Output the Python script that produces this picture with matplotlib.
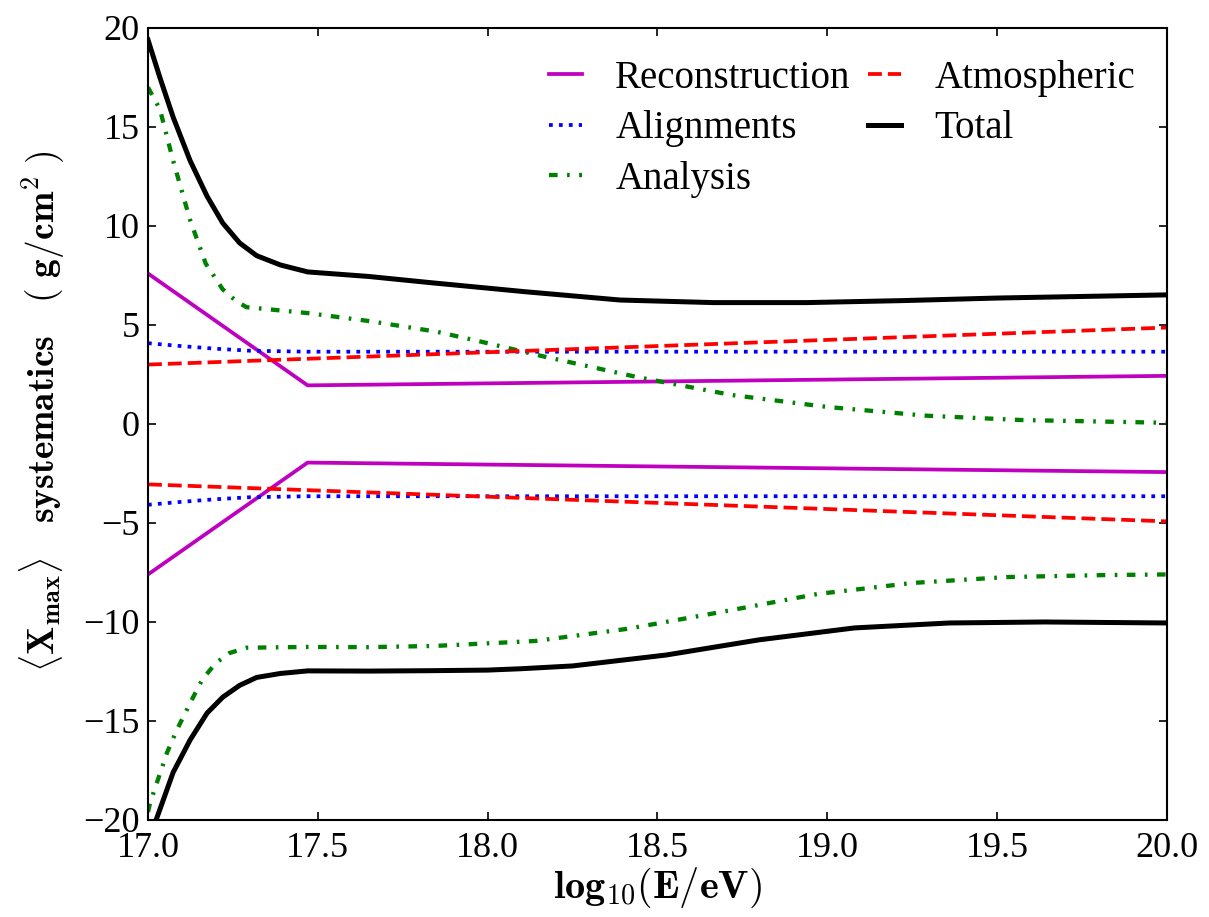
import numpy as np
import matplotlib
matplotlib.use("Agg")
import matplotlib.pyplot as plt

plt.rcParams['font.family'] = ['Liberation Serif', 'DejaVu Serif']
plt.rcParams['mathtext.fontset'] = 'cm'
plt.rcParams['axes.unicode_minus'] = True

# Reconstruction (piecewise linear, symmetric)
reco_x = [17.0, 17.47, 20.0]
reco_up = [7.6, 1.95, 2.43]
reco_lo = [-7.6, -1.95, -2.43]

# Atmospheric
atm_x = [17.0, 20.0]
atm_up = [3.0, 4.87]
atm_lo = [-3.05, -4.92]

# Alignments
ali_x = [17.0, 17.1, 17.2, 17.3, 17.47, 18.0, 19.0, 20.0]
ali_up = [4.08, 3.93, 3.8, 3.7, 3.65, 3.65, 3.65, 3.65]
ali_lo = [-4.08, -3.93, -3.8, -3.7, -3.65, -3.65, -3.65, -3.65]

# Analysis
ana_up_x = [17.0, 17.035, 17.074, 17.124, 17.17, 17.22, 17.26, 17.29, 17.35, 17.47, 17.65,
            17.85, 17.98, 18.16, 18.44, 18.72, 19.0, 19.29, 19.57, 20.0]
ana_up = [17.0, 15.9, 13.3, 10.3, 8.1, 6.8, 6.2, 5.9, 5.8, 5.6, 5.2,
          4.66, 4.16, 3.43, 2.37, 1.46, 0.86, 0.42, 0.2, 0.06]
ana_lo_x = [17.0, 17.006, 17.056, 17.085, 17.124, 17.16, 17.2, 17.24, 17.29, 17.47, 17.65,
            17.845, 18.14, 18.41, 18.69, 18.97, 19.25, 19.53, 19.82, 20.0]
ana_lo = [-19.6, -19.15, -16.6, -15.45, -14.1, -12.9, -12.07, -11.57, -11.3, -11.26, -11.27,
          -11.21, -10.96, -10.35, -9.49, -8.59, -8.03, -7.73, -7.63, -7.6]

# Total
tot_up_x = [17.0, 17.035, 17.074, 17.124, 17.174, 17.22, 17.27, 17.32, 17.39, 17.47, 17.65,
            17.83, 18.11, 18.39, 18.665, 18.94, 19.22, 19.5, 20.0]
tot_up = [19.4, 17.5, 15.5, 13.3, 11.5, 10.15, 9.14, 8.5, 8.03, 7.68, 7.45,
          7.14, 6.68, 6.26, 6.13, 6.13, 6.23, 6.36, 6.52]
tot_lo_x = [17.026, 17.074, 17.124, 17.174, 17.22, 17.27, 17.32, 17.39, 17.47, 17.65,
            17.83, 18.0, 18.1, 18.25, 18.4, 18.525, 18.8, 19.08, 19.36, 19.64, 20.0]
tot_lo = [-19.9, -17.6, -15.96, -14.6, -13.8, -13.2, -12.8, -12.6, -12.47, -12.48,
          -12.46, -12.43, -12.36, -12.22, -11.92, -11.67, -10.9, -10.3, -10.05, -10.0, -10.05]

fig = plt.figure(figsize=(12.09, 9.17), dpi=100)
ax = fig.add_axes([0.1224, 0.1058, 0.8428, 0.8637])

lw = 2.7
dd = (2.0, 2.2, 0.6, 2.2)
l_reco, = ax.plot(reco_x, reco_up, color='#bf00bf', lw=lw, label='Reconstruction')
ax.plot(reco_x, reco_lo, color='#bf00bf', lw=lw)
l_ali, = ax.plot(ali_x, ali_up, color='blue', lw=lw, ls=':', label='Alignments')
ax.plot(ali_x, ali_lo, color='blue', lw=lw, ls=':')
l_ana, = ax.plot(ana_up_x, ana_up, color='green', lw=lw + 0.4, dashes=dd, label='Analysis')
ax.plot(ana_lo_x, ana_lo, color='green', lw=lw + 0.4, dashes=dd)
l_atm, = ax.plot(atm_x, atm_up, color='red', lw=lw, ls='--', label='Atmospheric')
ax.plot(atm_x, atm_lo, color='red', lw=lw, ls='--')
l_tot, = ax.plot(tot_up_x, tot_up, color='black', lw=3.6, label='Total')
ax.plot(tot_lo_x, tot_lo, color='black', lw=3.6)

ax.set_xlim(17.0, 20.0)
ax.set_ylim(-20, 20)
ax.set_xticks([17.0, 17.5, 18.0, 18.5, 19.0, 19.5, 20.0])
ax.set_xticklabels(['17.0', '17.5', '18.0', '18.5', '19.0', '19.5', '20.0'])
ax.set_yticks([-20, -15, -10, -5, 0, 5, 10, 15, 20])
ax.tick_params(direction='in', length=6, width=1.2, top=True, right=True,
               labelsize=26)
ax.tick_params(axis='y', pad=6)
ax.tick_params(axis='x', pad=9)
for s in ax.spines.values():
    s.set_linewidth(1.5)

ax.set_xlabel(r'$\mathbf{log}_{10}\mathbf{(E/eV)}$', fontsize=29, labelpad=0)
ax.set_ylabel(r'$\langle\mathbf{X}_{\mathbf{max}}\rangle\quad\mathbf{systematics}\quad(\ \mathbf{g/cm^2}\ )$',
              fontsize=27)
ax.yaxis.set_label_coords(-0.079, 0.516)

ax.legend(handles=[l_reco, l_ali, l_ana, l_atm, l_tot], ncol=2, loc='upper right',
          frameon=False, fontsize=28, handlelength=0.85, columnspacing=0.45,
          handletextpad=0.85, labelspacing=0.35, borderaxespad=0.42)

fig.savefig('out.png', dpi=100)
